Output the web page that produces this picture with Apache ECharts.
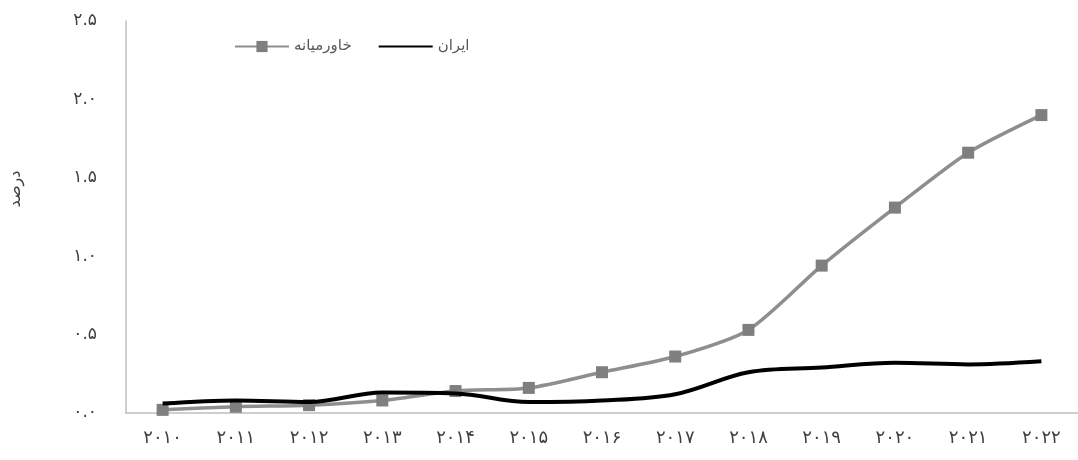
<!DOCTYPE html>
<html>
<head>
<meta charset="utf-8">
<script src="https://cdn.jsdelivr.net/npm/echarts@6/dist/echarts.min.js"></script>
<style>
  html, body { margin: 0; padding: 0; background: #fff; }
  #chart { width: 1078px; height: 460px; }
</style>
</head>
<body>
<div id="chart"></div>
<script>
// Categories (years, Persian digits)
const years = ['۲۰۱۰','۲۰۱۱','۲۰۱۲','۲۰۱۳','۲۰۱۴','۲۰۱۵','۲۰۱۶','۲۰۱۷','۲۰۱۸','۲۰۱۹','۲۰۲۰','۲۰۲۱','۲۰۲۲'];
// Series values (percent)
const middleEast = [0.02, 0.04, 0.05, 0.08, 0.14, 0.16, 0.26, 0.36, 0.53, 0.94, 1.31, 1.66, 1.90];
const iran = [0.06, 0.08, 0.07, 0.13, 0.125, 0.07, 0.08, 0.12, 0.26, 0.29, 0.32, 0.31, 0.33];
// Y tick labels
const yTickValues = [0, 0.5, 1, 1.5, 2, 2.5];
const yTickLabels = ['۰.۰', '۰.۵', '۱.۰', '۱.۵', '۲.۰', '۲.۵'];
const seriesNames = ['خاورمیانه', 'ایران'];
const yAxisName = 'درصد';

const FONT = "'DejaVu Sans', sans-serif";
const chart = echarts.init(document.getElementById('chart'), null, { renderer: 'canvas' });
chart.setOption({
  backgroundColor: '#ffffff',
  animation: false,
  textStyle: { fontFamily: FONT },
  legend: {
    left: 229,
    top: 34,
    itemWidth: 54,
    itemHeight: 14,
    itemGap: 26,
    textStyle: { fontFamily: FONT, fontSize: 15, color: '#595959' },
    data: [
      { name: seriesNames[0] },
      { name: seriesNames[1], itemStyle: { opacity: 0 } }
    ]
  },
  grid: { left: 124, right: -7, top: 21, bottom: 47, containLabel: false },
  xAxis: {
    type: 'category',
    data: years,
    boundaryGap: true,
    axisLine: { lineStyle: { color: '#bfbfbf', width: 1.5 } },
    axisTick: { show: false },
    axisLabel: { fontFamily: FONT, fontSize: 18, color: '#404040', margin: 16 }
  },
  yAxis: {
    type: 'value',
    min: 0,
    max: 2.5,
    interval: 0.5,
    name: yAxisName,
    nameLocation: 'middle',
    nameRotate: 90,
    nameGap: 102,
    nameTextStyle: { fontFamily: FONT, fontSize: 16, color: '#404040', padding: [0, 0, 0, 56] },
    axisLine: { show: true, lineStyle: { color: '#bfbfbf', width: 1.5 } },
    axisTick: { show: false },
    splitLine: { show: false },
    axisLabel: {
      fontFamily: FONT, fontSize: 17, color: '#404040', margin: 29,
      formatter: function (v) {
        const i = yTickValues.findIndex(t => Math.abs(t - v) < 1e-9);
        return i >= 0 ? yTickLabels[i] : '';
      }
    }
  },
  series: [
    {
      name: seriesNames[0],
      type: 'line',
      data: middleEast,
      smooth: 0.25,
      symbol: 'rect',
      symbolSize: 12,
      lineStyle: { color: '#8e8e8e', width: 3.5 },
      itemStyle: { color: '#7f7f7f' },
      z: 2
    },
    {
      name: seriesNames[1],
      type: 'line',
      data: iran,
      smooth: 0.35,
      symbol: 'none',
      lineStyle: { color: '#000000', width: 4 },
      itemStyle: { color: '#000000' },
      z: 3
    }
  ]
});
</script>
</body>
</html>
